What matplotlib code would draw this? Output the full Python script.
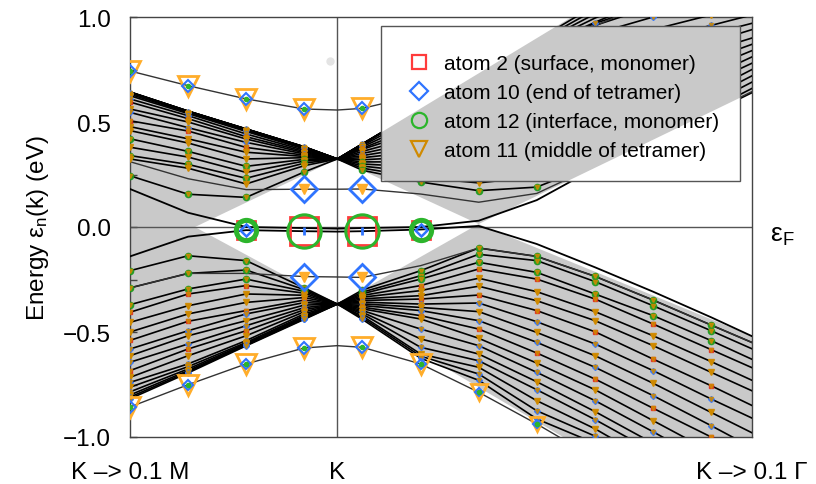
import numpy as np
import matplotlib
matplotlib.use("Agg")
import matplotlib.pyplot as plt
from matplotlib.lines import Line2D
from matplotlib.patches import Rectangle, Polygon

plt.rcParams['font.family'] = ['Liberation Sans', 'DejaVu Sans']
plt.rcParams['mathtext.fontset'] = 'custom'
plt.rcParams['mathtext.rm'] = 'Liberation Sans'
plt.rcParams['mathtext.it'] = 'Liberation Sans:italic'

# ---------------- data ----------------
# k grid (K at 0, left edge = K->0.1M, right edge = K->0.1Gamma)
k_grid = [-1.0, -0.72, -0.44, -0.16, 0.0, 0.121, 0.402, 0.682, 0.962, 1.243, 1.523, 1.803, 2.0]
marker_idx = [0, 1, 2, 3, 5, 6, 7, 8, 9, 10, 11]   # DFT k-points (K itself is index 4)
x_tick_pos = [-1.0, 0.0, 2.0]
x_tick_labels = ['K \u2013> 0.1 M', 'K', 'K \u2013> 0.1 \u0393']

# isolated / special bands
band_top = [0.743, 0.673, 0.610, 0.562, 0.557, 0.565, 0.630, 0.720, 0.830, 0.957, 1.080, 1.200, 1.290]
band_bottom = [-0.857, -0.751, -0.652, -0.576, -0.565, -0.573, -0.652, -0.787, -0.938, -1.100, -1.260, -1.420, -1.520]
band_A = [0.181, 0.068, 0.000, -0.005, -0.008, -0.005, 0.000, 0.030, 0.128, 0.280, 0.410, 0.545, 0.640]
band_Z = [-0.140, -0.046, -0.015, -0.020, -0.022, -0.020, -0.012, 0.005, -0.081, -0.192, -0.308, -0.430, -0.520]
band_D1 = [0.311, 0.230, 0.178, 0.180, 0.180, 0.181, 0.157, 0.118, 0.160, 0.290, 0.420, 0.550, 0.645]
band_D2 = [-0.290, -0.221, -0.221, -0.236, -0.238, -0.240, -0.184, -0.100, -0.140, -0.235, -0.348, -0.467, -0.550]

# upper Dirac-cone bands (top to bottom)
upper_bands = [
    [0.643, 0.552, 0.467, 0.382, 0.324, 0.396, 0.562, 0.725, 0.890, 1.055, 1.215, 1.365, 1.460],
    [0.643, 0.552, 0.467, 0.382, 0.324, 0.396, 0.561, 0.722, 0.880, 1.035, 1.180, 1.320, 1.400],
    [0.643, 0.552, 0.467, 0.382, 0.324, 0.395, 0.560, 0.720, 0.870, 1.015, 1.150, 1.275, 1.350],
    [0.642, 0.551, 0.466, 0.381, 0.324, 0.395, 0.559, 0.716, 0.860, 0.995, 1.115, 1.230, 1.300],
    [0.641, 0.551, 0.466, 0.381, 0.324, 0.395, 0.558, 0.712, 0.850, 0.975, 1.090, 1.195, 1.250],
    [0.640, 0.550, 0.465, 0.380, 0.324, 0.395, 0.557, 0.712, 0.850, 0.960, 1.050, 1.140, 1.200],
    [0.640, 0.550, 0.465, 0.380, 0.324, 0.395, 0.556, 0.715, 0.855, 0.970, 1.060, 1.120, 1.160],
    [0.632, 0.545, 0.460, 0.376, 0.324, 0.388, 0.535, 0.690, 0.820, 0.920, 1.000, 1.060, 1.100],
    [0.625, 0.540, 0.455, 0.372, 0.324, 0.382, 0.510, 0.650, 0.770, 0.860, 0.940, 1.010, 1.050],
    [0.610, 0.530, 0.443, 0.366, 0.324, 0.375, 0.485, 0.610, 0.720, 0.800, 0.890, 0.960, 1.010],
    [0.595, 0.516, 0.430, 0.360, 0.324, 0.370, 0.460, 0.570, 0.670, 0.750, 0.840, 0.920, 0.970],
    [0.562, 0.500, 0.419, 0.354, 0.324, 0.360, 0.435, 0.530, 0.620, 0.700, 0.790, 0.880, 0.940],
    [0.546, 0.473, 0.403, 0.348, 0.324, 0.350, 0.410, 0.490, 0.570, 0.650, 0.740, 0.840, 0.900],
    [0.506, 0.457, 0.379, 0.342, 0.324, 0.340, 0.385, 0.450, 0.520, 0.600, 0.690, 0.800, 0.870],
    [0.478, 0.420, 0.356, 0.336, 0.324, 0.330, 0.360, 0.410, 0.470, 0.550, 0.650, 0.760, 0.840],
    [0.459, 0.400, 0.324, 0.330, 0.324, 0.320, 0.335, 0.370, 0.420, 0.500, 0.610, 0.720, 0.810],
    [0.420, 0.360, 0.289, 0.322, 0.324, 0.310, 0.310, 0.330, 0.380, 0.450, 0.570, 0.690, 0.780],
    [0.380, 0.333, 0.260, 0.314, 0.324, 0.300, 0.285, 0.290, 0.330, 0.410, 0.530, 0.650, 0.750],
    [0.340, 0.298, 0.232, 0.304, 0.324, 0.290, 0.260, 0.250, 0.280, 0.370, 0.490, 0.620, 0.720],
    [0.324, 0.280, 0.205, 0.292, 0.324, 0.280, 0.235, 0.210, 0.240, 0.330, 0.460, 0.590, 0.690],
    [0.244, 0.156, 0.141, 0.262, 0.324, 0.270, 0.214, 0.173, 0.190, 0.300, 0.430, 0.560, 0.660],
]
upper_codes = "------bbobrobroogogog"

# lower Dirac-cone bands (top to bottom)
lower_bands = [
    [-0.208, -0.137, -0.160, -0.290, -0.367, -0.300, -0.208, -0.100, -0.140, -0.235, -0.348, -0.467, -0.550],
    [-0.290, -0.221, -0.205, -0.298, -0.367, -0.310, -0.232, -0.130, -0.160, -0.260, -0.375, -0.494, -0.580],
    [-0.370, -0.295, -0.248, -0.306, -0.367, -0.318, -0.248, -0.168, -0.216, -0.319, -0.422, -0.541, -0.630],
    [-0.406, -0.319, -0.279, -0.315, -0.367, -0.326, -0.279, -0.200, -0.248, -0.343, -0.462, -0.584, -0.670],
    [-0.454, -0.375, -0.319, -0.325, -0.367, -0.334, -0.303, -0.244, -0.308, -0.403, -0.518, -0.641, -0.730],
    [-0.500, -0.414, -0.359, -0.336, -0.367, -0.342, -0.327, -0.282, -0.351, -0.446, -0.565, -0.692, -0.780],
    [-0.540, -0.449, -0.398, -0.348, -0.367, -0.350, -0.343, -0.324, -0.398, -0.499, -0.629, -0.756, -0.850],
    [-0.581, -0.494, -0.414, -0.360, -0.367, -0.358, -0.367, -0.362, -0.451, -0.557, -0.684, -0.819, -0.910],
    [-0.613, -0.518, -0.446, -0.372, -0.367, -0.366, -0.383, -0.403, -0.502, -0.613, -0.744, -0.883, -0.980],
    [-0.644, -0.557, -0.470, -0.384, -0.367, -0.374, -0.398, -0.446, -0.549, -0.668, -0.803, -0.946, -1.050],
    [-0.684, -0.581, -0.494, -0.394, -0.367, -0.382, -0.422, -0.486, -0.600, -0.724, -0.863, -1.000, -1.100],
    [-0.716, -0.613, -0.518, -0.404, -0.367, -0.390, -0.438, -0.530, -0.648, -0.775, -0.922, -1.070, -1.170],
    [-0.740, -0.652, -0.541, -0.414, -0.367, -0.398, -0.486, -0.565, -0.692, -0.827, -0.975, -1.130, -1.230],
    [-0.763, -0.665, -0.550, -0.422, -0.367, -0.406, -0.533, -0.605, -0.737, -0.879, -1.030, -1.190, -1.300],
    [-0.785, -0.676, -0.555, -0.428, -0.367, -0.414, -0.573, -0.637, -0.775, -0.917, -1.070, -1.230, -1.350],
    [-0.800, -0.684, -0.559, -0.433, -0.367, -0.424, -0.605, -0.668, -0.827, -0.961, -1.120, -1.280, -1.400],
    [-0.810, -0.690, -0.563, -0.437, -0.367, -0.432, -0.615, -0.700, -0.875, -0.996, -1.160, -1.330, -1.450],
    [-0.818, -0.695, -0.566, -0.440, -0.367, -0.440, -0.625, -0.730, -0.914, -1.030, -1.200, -1.370, -1.500],
]
lower_codes = "gggroorbobrobobobb"

# projected bulk continuum (grey) outlines: (k, E) vertices
upper_cone_left_k = [-1.0, 0.0, -1.0]
upper_cone_left_E = [0.643, 0.324, -0.148]
upper_cone_right_k = [0.0, 2.0, 2.0, 0.681]
upper_cone_right_E = [0.324, 1.520, 0.643, 0.014]
lower_cone_left_k = [-1.0, 0.0, -1.0]
lower_cone_left_E = [0.167, -0.367, -0.819]
lower_cone_right_k = [0.0, 0.681, 2.0, 2.0]
lower_cone_right_E = [-0.367, 0.014, -0.519, -1.530]

# large projected weights (k index, marker size in pt)
top_tri_idx = [0, 1, 2, 3, 5]
bot_tri_idx = [0, 1, 2, 3, 5, 6, 7, 8]
bot_tri_size = [15, 14, 14, 15, 15, 14, 11, 10]
zero_idx = [2, 3, 5, 6]
zero_sq_size = [13, 20, 20, 13]
zero_circ_size = [16, 24, 24, 16]
dia_idx = [3, 5]

# faint stray point
stray_k = [-0.034]
stray_E = [0.790]

legend_labels = ['atom 2 (surface, monomer)', 'atom 10 (end of tetramer)',
                 'atom 12 (interface, monomer)', 'atom 11 (middle of tetramer)']

# ---------------- styles ----------------
RED = '#ff3b3b'
BLUE = '#2f74ff'
GREEN = '#2cb52c'
ORANGE = '#ffad2a'
DORANGE = '#d08a00'
GREY = '#c9c9c9'
AXC = '#444444'

fig = plt.figure(figsize=(8.16, 4.85), dpi=100)
ax = fig.add_axes([130/816, 1-438/485, 622/816, 420/485])
ax.set_xlim(-1.0, 2.0)
ax.set_ylim(-1.0, 1.0)

def fill(kk, ee, z=1, **kw):
    p = Polygon(np.column_stack([kk, ee]), closed=True, facecolor=GREY,
                edgecolor='none', zorder=z, **kw)
    ax.add_patch(p)
    return p

cones = [(upper_cone_left_k, upper_cone_left_E), (upper_cone_right_k, upper_cone_right_E),
         (lower_cone_left_k, lower_cone_left_E), (lower_cone_right_k, lower_cone_right_E)]
for kk, ee in cones:
    fill(kk, ee)

ax.axhline(0.0, color='#555555', lw=1.0, zorder=2)
ax.axvline(0.0, color='#555555', lw=1.0, zorder=2)

kg = np.array(k_grid)
for b in upper_bands + lower_bands:
    ax.plot(kg, b, color='black', lw=1.2, zorder=3)
for b in [band_A, band_Z]:
    ax.plot(kg, b, color='black', lw=1.3, zorder=3)
for b in [band_D1, band_D2, band_top, band_bottom]:
    ax.plot(kg, b, color='#333333', lw=1.0, zorder=3)

style = {'o': dict(marker='v', color=DORANGE, ms=4.5),
         'b': dict(marker='D', color=BLUE, ms=3.0),
         'r': dict(marker='s', color='#e03020', ms=3.5),
         'g': dict(marker='o', color='#1f9a1f', ms=4.5)}
mk = np.array(marker_idx)
for bands, codes in [(upper_bands, upper_codes), (lower_bands, lower_codes)]:
    for b, c in zip(bands, codes):
        if c == '-':
            continue
        st = style[c]
        ax.plot(kg[mk], np.array(b)[mk], ls='none', marker=st['marker'], ms=st['ms'],
                mfc=st['color'], mec=st['color'], alpha=0.9, zorder=4)
        ax.plot(kg[mk], np.array(b)[mk], ls='none', marker='v', ms=3,
                mfc=DORANGE, mec=DORANGE, alpha=0.8, zorder=4)

# large markers
ti = np.array(top_tri_idx)
ax.plot(kg[ti], np.array(band_top)[ti], ls='none', marker='v', ms=15, mfc='none',
        mec=ORANGE, mew=2.0, zorder=5)
ax.plot(kg[ti], np.array(band_top)[ti], ls='none', marker='D', ms=6, mfc='none',
        mec=BLUE, mew=1.5, zorder=5)
ax.plot(kg[ti], np.array(band_top)[ti], ls='none', marker='o', ms=3, mfc=GREEN,
        mec=GREEN, zorder=5)
bi = np.array(bot_tri_idx)
for j, s in zip(bi, bot_tri_size):
    ax.plot(kg[j], band_bottom[j], ls='none', marker='v', ms=s, mfc='none',
            mec=ORANGE, mew=2.0, zorder=5)
    ax.plot(kg[j], band_bottom[j], ls='none', marker='D', ms=s*0.4, mfc='none',
            mec=BLUE, mew=1.5, zorder=5)
    ax.plot(kg[j], band_bottom[j], ls='none', marker='o', ms=3, mfc=GREEN,
            mec=GREEN, zorder=5)
for j, ss, cs in zip(zero_idx, zero_sq_size, zero_circ_size):
    e = band_Z[j]
    ax.plot(kg[j], e, ls='none', marker='s', ms=ss, mfc='none', mec=RED, mew=2.0, zorder=5)
    ax.plot(kg[j], e, ls='none', marker='o', ms=cs, mfc='none', mec=GREEN, mew=2.2, zorder=5)
    if ss < 15:
        ax.plot(kg[j], e, ls='none', marker='o', ms=cs*0.8, mfc='none', mec=GREEN, mew=1.8, zorder=5)
        ax.plot(kg[j], e, ls='none', marker='D', ms=6, mfc='none', mec=BLUE, mew=1.8, zorder=5)
    else:
        ax.plot(kg[j], e, ls='none', marker='|', ms=6, mec=BLUE, mew=2.0, zorder=5)
di = np.array(dia_idx)
for b in [band_D1, band_D2]:
    ax.plot(kg[di], np.array(b)[di], ls='none', marker='D', ms=13, mfc='none',
            mec=BLUE, mew=2.0, zorder=5)
    ax.plot(kg[di], np.array(b)[di], ls='none', marker='v', ms=7, mfc=ORANGE,
            mec=ORANGE, zorder=5)

ax.plot(stray_k, stray_E, ls='none', marker='o', ms=6, mfc='#e4e4e4', mec='none', zorder=2)

# legend box (white, with the grey continuum shown through it)
bx0, bx1 = (381-130)/622, (740-130)/622
by0, by1 = (438-182)/420, (438-27)/420
box = Rectangle((bx0, by0), bx1-bx0, by1-by0, transform=ax.transAxes,
                facecolor='white', edgecolor='none', zorder=20)
ax.add_patch(box)
for kk, ee in cones:
    p = fill(kk, ee, z=21)
    p.set_clip_path(box)
frame = Rectangle((bx0, by0), bx1-bx0, by1-by0, transform=ax.transAxes,
                  facecolor='none', edgecolor='#555555', lw=1.0, zorder=22)
ax.add_patch(frame)

handles = [Line2D([], [], ls='none', marker='s', ms=10, mfc='none', mec=RED, mew=1.6),
           Line2D([], [], ls='none', marker='D', ms=9, mfc='none', mec=BLUE, mew=1.6),
           Line2D([], [], ls='none', marker='o', ms=11, mfc='none', mec=GREEN, mew=1.6),
           Line2D([], [], ls='none', marker='v', ms=12, mfc='none', mec=DORANGE, mew=1.6)]
leg = ax.legend(handles, legend_labels, loc='upper left',
                bbox_to_anchor=((386-130)/622, (438-45)/420), frameon=False,
                fontsize=15, handlelength=2.2, handletextpad=0.06, labelspacing=0.47,
                borderpad=0.5, borderaxespad=0.0)
leg.set_zorder(23)

# axes styling
for s in ax.spines.values():
    s.set_color(AXC)
    s.set_linewidth(1.0)
ax.set_xticks(x_tick_pos)
ax.set_xticklabels(x_tick_labels)
ax.tick_params(axis='x', length=0, labelsize=17.5, pad=17)
ax.set_yticks([-1.0, -0.5, 0.0, 0.5, 1.0])
ax.set_yticklabels(['\u22121.0', '\u22120.5', '0.0', '0.5', '1.0'])
ax.set_yticks([-0.75, -0.25, 0.25, 0.75], minor=True)
ax.tick_params(axis='y', which='both', direction='in', length=5, width=1.0, color=AXC,
               labelsize=17.5, pad=14)
ax.set_ylabel('Energy \u03b5$_\\mathregular{n}$(k) (eV)', fontsize=17.5, labelpad=8)

fig.text(770/816, 1-236/485, '\u03b5$_\\mathregular{F}$', fontsize=19, ha='left', va='center')

fig.savefig('out.png', dpi=100)
